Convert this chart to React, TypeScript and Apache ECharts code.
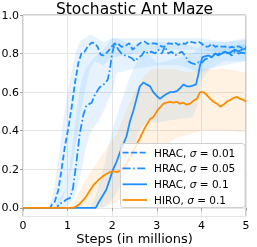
import React, { useEffect, useRef } from "react";
import * as echarts from "echarts";

// ---- data ----
const H001_X = [0, 0.62, 0.64, 0.71, 0.79, 0.86, 0.94, 1.01, 1.09, 1.16, 1.24, 1.31, 1.38, 1.46, 1.54, 1.6, 1.67, 1.74, 1.8, 1.86, 1.92, 1.98, 2.06, 2.14, 2.21, 2.3, 2.38, 2.46, 2.53, 2.6, 2.66, 2.73, 2.8, 2.88, 2.96, 3.04, 3.11, 3.18, 3.26, 3.34, 3.41, 3.48, 3.56, 3.64, 3.71, 3.78, 3.86, 3.93, 4.0, 4.08, 4.16, 4.23, 4.31, 4.38, 4.46, 4.53, 4.61, 4.68, 4.75, 4.83, 4.9, 5.0];
const H001_Y = [0, 0, 0.015, 0.03, 0.09, 0.19, 0.32, 0.405, 0.52, 0.64, 0.75, 0.8, 0.81, 0.84, 0.857, 0.855, 0.836, 0.795, 0.79, 0.8, 0.815, 0.835, 0.853, 0.85, 0.835, 0.84, 0.854, 0.82, 0.835, 0.85, 0.86, 0.862, 0.85, 0.853, 0.853, 0.845, 0.836, 0.836, 0.853, 0.85, 0.857, 0.845, 0.853, 0.85, 0.862, 0.86, 0.855, 0.862, 0.853, 0.836, 0.836, 0.85, 0.835, 0.84, 0.836, 0.836, 0.83, 0.835, 0.83, 0.838, 0.83, 0.835];

const H005_X = [0, 0.77, 0.8, 0.9, 0.97, 1.05, 1.12, 1.2, 1.27, 1.35, 1.42, 1.48, 1.54, 1.6, 1.65, 1.72, 1.78, 1.84, 1.9, 1.95, 1.99, 2.03, 2.06, 2.14, 2.21, 2.29, 2.36, 2.44, 2.51, 2.59, 2.66, 2.73, 2.81, 2.88, 2.96, 3.03, 3.11, 3.18, 3.26, 3.33, 3.41, 3.48, 3.56, 3.63, 3.71, 3.78, 3.86, 3.93, 4.0, 4.08, 4.16, 4.23, 4.31, 4.38, 4.46, 4.53, 4.61, 4.68, 4.75, 4.83, 4.9, 5.0];
const H005_Y = [0, 0, 0.02, 0.028, 0.043, 0.05, 0.1, 0.24, 0.38, 0.48, 0.53, 0.538, 0.545, 0.58, 0.6, 0.625, 0.635, 0.645, 0.665, 0.72, 0.79, 0.83, 0.853, 0.82, 0.8, 0.79, 0.785, 0.776, 0.76, 0.78, 0.79, 0.815, 0.8, 0.81, 0.8, 0.82, 0.8, 0.835, 0.8, 0.81, 0.79, 0.8, 0.81, 0.79, 0.76, 0.75, 0.745, 0.755, 0.75, 0.77, 0.776, 0.79, 0.8, 0.795, 0.81, 0.8, 0.805, 0.79, 0.81, 0.8, 0.805, 0.8];

const H01_X = [0, 1.63, 1.7, 1.78, 1.87, 1.95, 2.02, 2.1, 2.17, 2.25, 2.32, 2.4, 2.47, 2.55, 2.62, 2.7, 2.77, 2.85, 2.92, 3.0, 3.07, 3.15, 3.22, 3.3, 3.37, 3.45, 3.52, 3.6, 3.67, 3.75, 3.82, 3.88, 3.93, 3.97, 4.02, 4.08, 4.16, 4.23, 4.31, 4.38, 4.46, 4.53, 4.61, 4.68, 4.75, 4.83, 4.9, 5.0];
const H01_Y = [0, 0, 0.03, 0.06, 0.095, 0.15, 0.2, 0.24, 0.285, 0.33, 0.37, 0.45, 0.5, 0.57, 0.63, 0.65, 0.64, 0.63, 0.6, 0.58, 0.565, 0.58, 0.59, 0.6, 0.6, 0.605, 0.62, 0.64, 0.63, 0.63, 0.635, 0.64, 0.69, 0.74, 0.78, 0.785, 0.79, 0.78, 0.8, 0.79, 0.8, 0.81, 0.8, 0.81, 0.82, 0.81, 0.82, 0.825];

const HIRO_X = [0, 1.12, 1.2, 1.27, 1.35, 1.42, 1.5, 1.57, 1.65, 1.72, 1.8, 1.87, 1.95, 2.02, 2.1, 2.17, 2.25, 2.32, 2.4, 2.47, 2.55, 2.62, 2.7, 2.77, 2.85, 2.92, 3.0, 3.07, 3.15, 3.22, 3.3, 3.37, 3.45, 3.52, 3.6, 3.67, 3.75, 3.82, 3.9, 3.97, 4.05, 4.12, 4.2, 4.27, 4.35, 4.42, 4.5, 4.57, 4.65, 4.72, 4.8, 4.87, 4.95, 5.0];
const HIRO_Y = [0, 0, 0.008, 0.02, 0.04, 0.06, 0.09, 0.115, 0.135, 0.15, 0.165, 0.175, 0.185, 0.19, 0.185, 0.19, 0.205, 0.225, 0.26, 0.29, 0.33, 0.36, 0.4, 0.43, 0.46, 0.47, 0.5, 0.52, 0.54, 0.545, 0.55, 0.545, 0.55, 0.54, 0.545, 0.535, 0.54, 0.555, 0.565, 0.6, 0.6, 0.585, 0.565, 0.55, 0.54, 0.525, 0.535, 0.55, 0.56, 0.57, 0.575, 0.565, 0.56, 0.55];

// shaded bands (lower / upper)
const B001_X = [0.55, 0.62, 0.7, 0.8, 0.9, 1.0, 1.1, 1.2, 1.3, 1.4, 1.5, 1.6, 1.8, 2.0, 2.5, 3.0, 3.5, 4.0, 4.5, 5.0];
const B001_LO = [0, 0, 0, 0.02, 0.05, 0.12, 0.22, 0.35, 0.5, 0.62, 0.72, 0.76, 0.74, 0.78, 0.8, 0.82, 0.82, 0.82, 0.8, 0.8];
const B001_HI = [0, 0.03, 0.1, 0.25, 0.45, 0.6, 0.72, 0.82, 0.87, 0.88, 0.9, 0.89, 0.86, 0.88, 0.88, 0.88, 0.88, 0.88, 0.86, 0.87];

const B005_X = [0.72, 0.8, 0.9, 1.0, 1.1, 1.2, 1.3, 1.4, 1.5, 1.6, 1.7, 1.8, 1.9, 2.0, 2.1, 2.5, 3.0, 3.5, 4.0, 4.5, 5.0];
const B005_LO = [0, 0, 0, 0.01, 0.03, 0.08, 0.18, 0.3, 0.38, 0.42, 0.45, 0.5, 0.55, 0.6, 0.7, 0.72, 0.74, 0.74, 0.7, 0.76, 0.76];
const B005_HI = [0, 0.05, 0.07, 0.12, 0.3, 0.5, 0.65, 0.72, 0.75, 0.78, 0.8, 0.82, 0.85, 0.88, 0.88, 0.84, 0.86, 0.86, 0.82, 0.84, 0.85];

const B01_X = [1.5, 1.6, 1.8, 2.0, 2.2, 2.4, 2.6, 2.8, 3.0, 3.2, 3.5, 3.8, 3.9, 4.0, 4.2, 4.5, 5.0];
const B01_LO = [0, 0, 0, 0.04, 0.12, 0.25, 0.4, 0.45, 0.44, 0.45, 0.46, 0.47, 0.52, 0.66, 0.72, 0.74, 0.76];
const B01_HI = [0, 0.04, 0.2, 0.4, 0.55, 0.68, 0.78, 0.8, 0.75, 0.76, 0.78, 0.8, 0.82, 0.86, 0.86, 0.86, 0.88];

const BHIRO_X = [1.0, 1.1, 1.3, 1.5, 1.7, 1.9, 2.1, 2.3, 2.5, 2.7, 2.9, 3.1, 3.4, 3.7, 4.0, 4.3, 4.6, 5.0];
const BHIRO_LO = [0, 0, 0, 0, 0, 0.01, 0.03, 0.06, 0.1, 0.15, 0.22, 0.3, 0.36, 0.38, 0.4, 0.4, 0.4, 0.39];
const BHIRO_HI = [0, 0.02, 0.1, 0.18, 0.25, 0.32, 0.38, 0.5, 0.6, 0.68, 0.72, 0.72, 0.72, 0.7, 0.72, 0.72, 0.72, 0.7];

const X_TICKS = [0, 1, 2, 3, 4, 5];
const TITLE = "Stochastic Ant Maze";
const X_NAME = "Steps (in millions)";
const LEGEND = [
  { name: "HRAC", sigma: "0.01" },
  { name: "HRAC", sigma: "0.05" },
  { name: "HRAC", sigma: "0.1" },
  { name: "HIRO", sigma: "0.1" },
];

const BLUE = "#1e8fff";
const ORANGE = "#ff8c00";
const BLUE_BAND = "rgba(30,144,255,0.11)";
const ORANGE_BAND = "rgba(255,140,0,0.11)";
const FONT = "DejaVu Sans";

const DASH = [6, 2.6];
const DASHDOT = [8, 2.6, 1.6, 2.6];

function pairs(xs: number[], ys: number[]) {
  return xs.map((x, i) => [x, ys[i]]);
}

function band(xs: number[], lo: number[], hi: number[], fill: string) {
  return {
    type: "custom",
    silent: true,
    z: 1,
    data: [[xs[0], lo[0]]],
    renderItem: (_p: any, api: any) => {
      const up = xs.map((x, i) => api.coord([x, hi[i]]));
      const dn = xs.map((x, i) => api.coord([x, lo[i]])).reverse();
      return { type: "polygon", shape: { points: up.concat(dn) }, style: { fill } };
    },
  };
}

function line(xs: number[], ys: number[], color: string, type: any, z: number) {
  return {
    type: "line",
    data: pairs(xs, ys),
    showSymbol: false,
    symbol: "none",
    z,
    lineStyle: { color, width: 1.8, type },
  };
}

export default function App() {
  const ref = useRef<HTMLDivElement>(null);
  useEffect(() => {
    if (!ref.current) return;
    const chart = echarts.init(ref.current, undefined, { renderer: "svg" });
    const gridL = 23, gridR = 11, gridT = 15, gridB = 30.5;
    const lx = 120.5, ly = 143.5;
    const rowY = [152.7, 168.3, 184.3, 200];
    const styles = [
      { color: BLUE, dash: DASH },
      { color: BLUE, dash: DASHDOT },
      { color: BLUE, dash: null },
      { color: ORANGE, dash: null },
    ];
    const legendEls: any[] = [
      {
        type: "rect",
        shape: { x: lx, y: ly, width: 124.5, height: 64, r: 3 },
        style: { fill: "rgba(255,255,255,0.8)", stroke: "#d0d0d0", lineWidth: 1 },
        z: 100,
      },
    ];
    LEGEND.forEach((it, i) => {
      legendEls.push({
        type: "line",
        shape: { x1: 122.5, y1: rowY[i], x2: 147, y2: rowY[i] },
        style: { stroke: styles[i].color, lineWidth: 1.8, lineDash: styles[i].dash || undefined },
        z: 101,
      });
      legendEls.push({
        type: "text",
        x: 154,
        y: rowY[i],
        style: {
          text: `${it.name}, {s|σ} = ${it.sigma}`,
          fontFamily: FONT,
          fontSize: 10.5,
          fill: "#000",
          verticalAlign: "middle",
          rich: { s: { fontStyle: "italic", fontFamily: FONT, fontSize: 10.5, fill: "#000" } },
        },
        z: 101,
      });
    });

    chart.setOption({
      animation: false,
      grid: {
        left: gridL, right: gridR, top: gridT, bottom: gridB,
        outerBoundsMode: "none",
        containLabel: false,
        show: true, borderColor: "#a0a0a0", borderWidth: 1, backgroundColor: "transparent",
      },
      xAxis: {
        type: "value",
        min: 0, max: 5, interval: 1,
        axisLine: { show: false },
        axisTick: { show: true, length: 3, lineStyle: { color: "#a0a0a0" } },
        axisLabel: {
          fontFamily: FONT, fontSize: 11, color: "#000", margin: 3,
          formatter: (v: number) => (X_TICKS.includes(v) ? String(v) : ""),
        },
        splitLine: { show: true, lineStyle: { color: "#e6e6e6", width: 1 } },
      },
      yAxis: {
        type: "value",
        min: -0.045, max: 1.0, splitNumber: 5,
        axisLine: { show: false },
        axisTick: { show: true, length: 3, lineStyle: { color: "#a0a0a0" } },
        axisLabel: {
          fontFamily: FONT, fontSize: 11, color: "#000", margin: 4, showMinLabel: false,
          formatter: (v: number) => (Math.abs(v * 5 - Math.round(v * 5)) < 1e-6 ? v.toFixed(1) : ""),
        },
        splitLine: { show: true, lineStyle: { color: "#e6e6e6", width: 1 } },
      },
      graphic: [
        {
          type: "text",
          x: 134.5,
          y: 8.5,
          style: {
            text: TITLE,
            fontFamily: FONT, fontSize: 15.5, fill: "#000",
            align: "center", verticalAlign: "middle",
          },
        },
        {
          type: "text",
          x: 134.5,
          y: 238,
          style: {
            text: X_NAME,
            fontFamily: FONT, fontSize: 13, fill: "#000",
            align: "center", verticalAlign: "middle",
          },
        },
        ...legendEls,
      ],
      series: [
        band(B001_X, B001_LO, B001_HI, BLUE_BAND),
        band(B005_X, B005_LO, B005_HI, BLUE_BAND),
        band(B01_X, B01_LO, B01_HI, BLUE_BAND),
        band(BHIRO_X, BHIRO_LO, BHIRO_HI, ORANGE_BAND),
        line(H001_X, H001_Y, BLUE, DASH, 3),
        line(H005_X, H005_Y, BLUE, DASHDOT, 3),
        line(H01_X, H01_Y, BLUE, "solid", 3),
        line(HIRO_X, HIRO_Y, ORANGE, "solid", 4),
      ],
    });
    return () => chart.dispose();
  }, []);
  return <div ref={ref} style={{ position: "fixed", left: 0, top: 0, width: 257, height: 247 }} />;
}
